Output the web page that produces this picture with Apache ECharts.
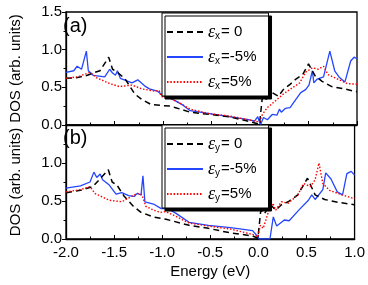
<!DOCTYPE html>
<html><head><meta charset="utf-8">
<script src="https://cdn.jsdelivr.net/npm/echarts@6/dist/echarts.min.js"></script>
<style>html,body{margin:0;padding:0;background:#fff}#c{width:368px;height:285px}</style>
</head><body><div id="c"></div>
<script>
// Panel (a): strain along x
const aZero = [[-2.0,0.62],[-1.88,0.63],[-1.78,0.66],[-1.70,0.70],[-1.65,0.72],[-1.56,0.90],[-1.52,0.74],[-1.47,0.70],[-1.39,0.61],[-1.29,0.41],[-1.22,0.34],[-1.12,0.27],[-1.02,0.26],[-0.92,0.25],[-0.87,0.23],[-0.72,0.17],[-0.52,0.14],[-0.32,0.11],[-0.12,0.05],[-0.005,0.01],[0.025,0.38],[0.06,0.34],[0.126,0.43],[0.19,0.38],[0.24,0.47],[0.31,0.54],[0.37,0.61],[0.44,0.67],[0.50,0.81],[0.57,0.65],[0.64,0.58],[0.74,0.51],[0.87,0.48],[1.0,0.44]];
const aMinus = [[-2.0,0.70],[-1.92,0.72],[-1.885,0.78],[-1.84,0.74],[-1.82,0.73],[-1.79,0.98],[-1.77,0.72],[-1.72,0.66],[-1.60,0.64],[-1.55,0.74],[-1.52,0.69],[-1.49,0.66],[-1.47,0.72],[-1.44,0.62],[-1.32,0.56],[-1.26,0.60],[-1.19,0.52],[-1.14,0.48],[-1.06,0.45],[-0.99,0.38],[-0.92,0.35],[-0.87,0.32],[-0.79,0.26],[-0.72,0.19],[-0.52,0.15],[-0.32,0.11],[-0.12,0.07],[-0.056,0.05],[-0.023,0.11],[0.004,0.0],[0.036,0.10],[0.076,0.07],[0.126,0.14],[0.175,0.13],[0.2,0.21],[0.22,0.17],[0.26,0.22],[0.31,0.23],[0.37,0.34],[0.42,0.43],[0.47,0.47],[0.505,0.53],[0.54,0.72],[0.555,0.56],[0.59,0.61],[0.655,0.64],[0.72,0.98],[0.77,0.72],[0.82,0.63],[0.875,0.57],[0.935,0.85],[0.97,0.90],[1.0,0.88]];
const aPlus = [[-2.0,0.62],[-1.88,0.64],[-1.75,0.70],[-1.69,0.63],[-1.55,0.55],[-1.45,0.51],[-1.32,0.53],[-1.22,0.48],[-1.09,0.45],[-1.04,0.46],[-1.02,0.38],[-0.92,0.35],[-0.825,0.29],[-0.72,0.21],[-0.52,0.15],[-0.32,0.12],[-0.12,0.07],[-0.005,0.04],[0.025,0.14],[0.075,0.23],[0.14,0.30],[0.24,0.41],[0.34,0.50],[0.41,0.56],[0.47,0.70],[0.54,0.76],[0.60,0.74],[0.655,0.78],[0.70,0.67],[0.80,0.61],[0.90,0.55],[1.0,0.54]];
// Panel (b): strain along y
const bZero = [[-2.0,0.61],[-1.85,0.64],[-1.72,0.69],[-1.64,0.80],[-1.56,0.91],[-1.52,0.75],[-1.47,0.71],[-1.40,0.57],[-1.30,0.43],[-1.22,0.35],[-1.09,0.29],[-0.96,0.26],[-0.72,0.18],[-0.52,0.14],[-0.29,0.08],[-0.06,0.04],[-0.005,0.01],[0.025,0.38],[0.06,0.33],[0.126,0.45],[0.18,0.38],[0.24,0.45],[0.31,0.49],[0.41,0.58],[0.51,0.80],[0.59,0.58],[0.69,0.52],[0.84,0.48],[1.0,0.45]];
const bMinus = [[-2.0,0.67],[-1.85,0.70],[-1.75,0.75],[-1.71,0.88],[-1.68,0.81],[-1.645,0.855],[-1.62,0.78],[-1.55,0.71],[-1.48,0.59],[-1.42,0.61],[-1.35,0.57],[-1.29,0.56],[-1.26,0.60],[-1.22,0.58],[-1.20,0.83],[-1.18,0.49],[-1.09,0.46],[-1.01,0.40],[-0.94,0.40],[-0.86,0.34],[-0.72,0.22],[-0.52,0.18],[-0.29,0.15],[-0.06,0.11],[-0.005,0.03],[0.005,0],[0.12,0],[0.155,0.29],[0.19,0.17],[0.27,0.25],[0.32,0.24],[0.42,0.38],[0.52,0.51],[0.555,0.58],[0.59,0.52],[0.67,0.65],[0.70,0.87],[0.755,0.79],[0.82,0.62],[0.875,0.58],[0.92,0.86],[0.965,0.89],[1.0,0.84]];
const bPlus = [[-2.0,0.62],[-1.85,0.65],[-1.75,0.69],[-1.70,0.60],[-1.55,0.51],[-1.42,0.49],[-1.32,0.56],[-1.26,0.60],[-1.21,0.58],[-1.17,0.43],[-1.09,0.38],[-1.02,0.35],[-0.96,0.36],[-0.86,0.30],[-0.72,0.21],[-0.52,0.17],[-0.29,0.13],[-0.06,0.06],[-0.005,0.03],[0.02,0.18],[0.05,0.14],[0.11,0.38],[0.15,0.47],[0.18,0.38],[0.24,0.49],[0.31,0.47],[0.41,0.58],[0.47,0.73],[0.54,0.69],[0.59,0.78],[0.63,1.00],[0.67,0.73],[0.74,0.64],[0.87,0.58],[1.0,0.53]];

const seriesNames = ['ax0','axm','axp','by0','bym','byp'];
const legendLabels = {
  ax0: '{e|ε}{s|x}{t|= 0}', axm: '{e|ε}{s|x}{t|=-5%}', axp: '{e|ε}{s|x}{t|=5%}',
  by0: '{e|ε}{s|y}{t|= 0}', bym: '{e|ε}{s|y}{t|=-5%}', byp: '{e|ε}{s|y}{t|=5%}'
};
const panelLabels = ['(a)','(b)'];
const yLabel = 'DOS (arb. units)';
const xLabel = 'Energy (eV)';

const FONT = 'Liberation Sans, Arial, sans-serif';
const styles = [
  {color:'#000000', type:[6,4], width:1.5},
  {color:'#2446ff', type:'solid', width:1.3},
  {color:'#ff0000', type:[1.5,1.8], width:1.4}
];
const allData = [aZero,aMinus,aPlus,bZero,bMinus,bPlus];

function xAxisCfg(idx, showLabel){
  return {
    type:'value', gridIndex:idx, min:-2, max:1, interval:0.5,
    axisLine:{show:true, onZero:false, lineStyle:{color:'#000', width:1.3}},
    axisTick:{show:true, inside:true, length:4, lineStyle:{color:'#000', width:1}},
    minorTick:{show:true, splitNumber:2, length:2.5, lineStyle:{color:'#000', width:1}},
    splitLine:{show:false},
    axisLabel:{show:showLabel, color:'#000', fontSize:15, fontFamily:FONT, margin:6,
      formatter:v=>v.toFixed(1)},
    name: showLabel ? xLabel : '', nameLocation:'middle', nameGap:25,
    nameTextStyle:{color:'#000', fontSize:15, fontFamily:FONT}
  };
}
function yAxisCfg(idx, showMax){
  return {
    type:'value', gridIndex:idx, min:0, max:1.5, interval:0.5,
    axisLine:{show:true, onZero:false, lineStyle:{color:'#000', width:1.3}},
    axisTick:{show:true, inside:false, length:4, lineStyle:{color:'#000', width:1}},
    minorTick:{show:true, splitNumber:2, length:2.5, lineStyle:{color:'#000', width:1}},
    splitLine:{show:false},
    axisLabel:{color:'#000', fontSize:15, fontFamily:FONT, margin:4, showMaxLabel:showMax,
      formatter:v=>v.toFixed(1)},
    name: yLabel, nameLocation:'middle', nameGap:43, nameRotate:90,
    nameTextStyle:{color:'#000', fontSize:15, fontFamily:FONT}
  };
}
const legendRich = {
  e:{fontFamily:'Liberation Serif, serif', fontStyle:'italic', fontSize:18, color:'#000', lineHeight:18},
  s:{fontFamily:FONT, fontSize:10, color:'#000', verticalAlign:'bottom', lineHeight:18, padding:[9,1,0,0]},
  t:{fontFamily:FONT, fontSize:15, color:'#000', lineHeight:18}
};
function legendCfg(names, top){
  return {
    orient:'vertical', left:162, top:top, data:names,
    itemWidth:36, itemHeight:14, itemGap:6, padding:[9,12,5,4],
    backgroundColor:'#fff', borderColor:'#000', borderWidth:1,
    shadowColor:'#000', shadowBlur:0, shadowOffsetX:3, shadowOffsetY:3,
    itemStyle:{opacity:0},
    formatter:n=>legendLabels[n],
    textStyle:{rich:legendRich}
  };
}

const chart = echarts.init(document.getElementById('c'), null, {renderer:'canvas'});
chart.setOption({
  animation:false,
  backgroundColor:'#fff',
  grid:[
    {left:55, top:12, width:302, height:113, show:true, borderColor:'#000', borderWidth:1.3, backgroundColor:'transparent'},
    {left:55, top:125, width:302, height:114, show:true, borderColor:'#000', borderWidth:1.3, backgroundColor:'transparent'}
  ],
  xAxis:[xAxisCfg(0,false), xAxisCfg(1,true)],
  yAxis:[yAxisCfg(0,true), yAxisCfg(1,false)],
  legend:[legendCfg(seriesNames.slice(0,3), 13), legendCfg(seriesNames.slice(3), 125)],
  graphic:[
    {type:'text', left:63, top:16, style:{text:panelLabels[0], fontSize:20, fontFamily:FONT, fill:'#000'}},
    {type:'text', left:63, top:128, style:{text:panelLabels[1], fontSize:20, fontFamily:FONT, fill:'#000'}}
  ],
  series: allData.map((d,i)=>({
    name:seriesNames[i], type:'line', xAxisIndex:i<3?0:1, yAxisIndex:i<3?0:1,
    data:d, symbol:'none', showSymbol:false, smooth:false,
    lineStyle:styles[i%3], itemStyle:{color:styles[i%3].color}, z:2+(i%3===1?0:1)
  }))
});
</script></body></html>
